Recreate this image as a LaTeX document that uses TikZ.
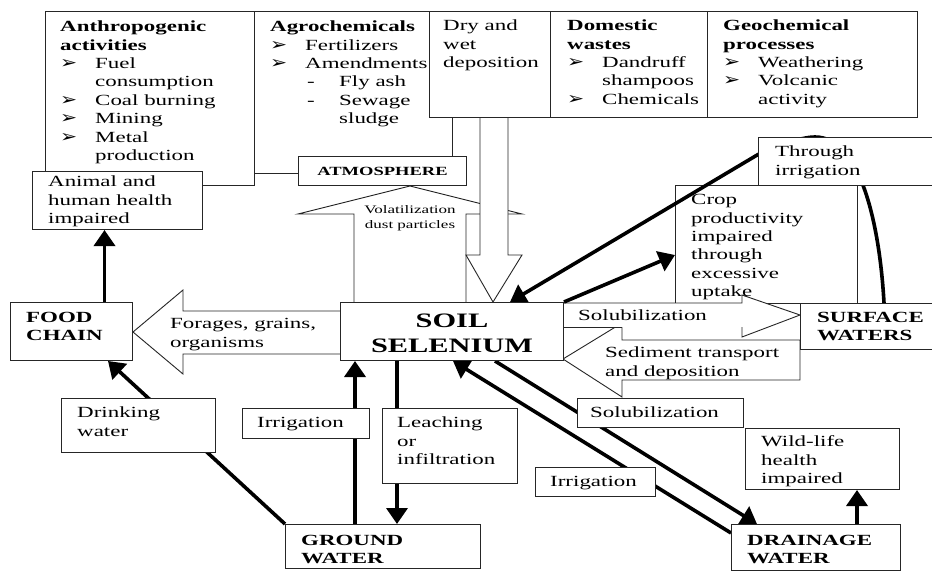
\documentclass[tikz,border=0pt]{standalone}
\usepackage{fontspec}
\setmainfont{Liberation Serif}[FakeStretch=1.48]
\newfontfamily\bulfont{DejaVu Sans}[FakeStretch=1.2]
\usetikzlibrary{arrows.meta}
\pgfdeclarelayer{back}
\pgfdeclarelayer{mid}
\pgfsetlayers{back,mid,main}
\newcommand\fsn{\fontsize{15.5}{18.4}\selectfont}
\newcommand\mybul{\makebox[35pt][l]{\hspace{0pt}{\bulfont\fontsize{17}{11}\selectfont ➢}}}
\newcommand\myind{\hspace*{35pt}}
\newcommand\mydash{\makebox[34pt][l]{\hspace{2pt}-}}
\begin{document}
\begin{tikzpicture}[x=1pt,y=-1pt,
  box/.style={draw=black!85, line width=1pt, fill=white, inner sep=0pt, anchor=north west},
  hollow/.style={draw=black!85, line width=0.9pt, fill=white, line join=miter},
  thinl/.style={draw=black!85, line width=0.9pt},
  conn/.style={line width=3.6pt, -{Triangle[width=21pt,length=16pt]}},
  lbl/.style={align=left, inner sep=0pt, anchor=north west, font=\fsn},
  blbl/.style={align=left, inner sep=0pt, anchor=north west, font=\fsn\bfseries},
]
\useasboundingbox (0,0) rectangle (932,573);
\begin{pgfonlayer}{back}
\fill[white] (0,0) rectangle (932,573);
\node[box, minimum width=209pt, minimum height=174pt] (anthro) at (45,11) {};
\node[box, minimum width=198pt, minimum height=162pt] (agro) at (254,11) {};
% volatilization (up)
\draw[hollow] (354,302) -- (354,214) -- (298,214) -- (410,186) -- (522,214) -- (466,214) -- (466,302);
% dry and wet deposition (down)
\draw[hollow] (480,117) -- (480,255) -- (466,255) -- (493,302) -- (522,255) -- (508,255) -- (508,117);
% forages (left)
\draw[hollow] (340,311) -- (183,311) -- (183,290) -- (133,332) -- (183,374) -- (183,354) -- (340,354);
\node[box, minimum width=182pt, minimum height=118pt] (crop) at (675,185) {};
% sediment transport (left)
\draw[hollow] (800,340) -- (622,340) -- (622,323) -- (563,359) -- (622,397) -- (622,380) -- (800,380) -- cycle;
% solubilization (right)
\fill[white] (563,303) -- (742,303) -- (742,295) -- (800,315) -- (742,337) -- (742,327) -- (563,327) -- cycle;
\draw[thinl] (563,303) -- (742,303) -- (742,295) -- (800,315) -- (742,337) -- (742,327);
\draw[thinl] (563,327) -- (622,327);
\end{pgfonlayer}

% boxes
\node[box, minimum width=121pt, minimum height=106pt] (dry) at (429,11) {};
\node[box, minimum width=157pt, minimum height=106pt] (dom) at (550,11) {};
\node[box, minimum width=210pt, minimum height=106pt] (geo) at (707,11) {};
\node[box, minimum width=168pt, minimum height=29pt] (atm) at (298,156) {};
\node[box, minimum width=170pt, minimum height=58pt] (animal) at (32,171) {};
\node[box, minimum width=122pt, minimum height=58pt] (food) at (10,302) {};
\node[box, minimum width=223pt, minimum height=58pt] (soil) at (340,302) {};
\node[box, minimum width=182pt, minimum height=48pt] (thru) at (758,137) {};
\node[box, minimum width=140pt, minimum height=46pt] (surf) at (800,303) {};
\node[box, minimum width=154pt, minimum height=54pt] (drink) at (61,398) {};
\node[box, minimum width=127pt, minimum height=30pt] (irrL) at (242,408) {};
\node[box, minimum width=135pt, minimum height=75pt] (leach) at (382,408) {};
\node[box, minimum width=195pt, minimum height=44pt] (gw) at (285,524) {};
\node[box, minimum width=166pt, minimum height=29pt] (solB) at (577,398) {};
\node[box, minimum width=120pt, minimum height=29pt] (irrR) at (535,467) {};
\node[box, minimum width=154pt, minimum height=61pt] (wild) at (745,428) {};
\node[box, minimum width=169pt, minimum height=46pt] (drain) at (731,524) {};

% texts
\node[lbl] (anthro-t) at (60,18.6) {\strut\textbf{Anthropogenic}\\ \textbf{activities}\\ \mybul Fuel\\ \myind consumption\\ \mybul Coal burning\\ \mybul Mining\\ \mybul Metal\\ \myind production};
\node[lbl] (agro-t) at (270,18.6) {\strut\textbf{Agrochemicals}\\ \mybul Fertilizers\\ \mybul Amendments\\ \myind\mydash Fly ash\\ \myind\mydash Sewage\\ \myind\hspace*{34pt}sludge};
\node[lbl] (dry-t) at (443,17.6) {\strut Dry and\\ wet\\ deposition};
\node[lbl] (dom-t) at (567,17.6) {\strut\textbf{Domestic}\\ \textbf{wastes}\\ \mybul Dandruff\\ \myind shampoos\\ \mybul Chemicals};
\node[lbl] (geo-t) at (723,17.6) {\strut\textbf{Geochemical}\\ \textbf{processes}\\ \mybul Weathering\\ \mybul Volcanic\\ \myind activity};
\node[font=\fontsize{12.5}{14}\selectfont\bfseries, inner sep=0pt] (atm-t) at (atm.center) {ATMOSPHERE};
\node[font=\fontsize{11.5}{14.5}\selectfont, align=center, inner sep=0pt] (vol-t) at (410,218) {Volatilization\\ dust particles};
\node[lbl] (animal-t) at (48,173.6) {\strut Animal and\\ human health\\ impaired};
\node[blbl] (food-t) at (26,309.4) {\strut FOOD\\ CHAIN};
\node[lbl] (forage-t) at (170,315.6) {\strut Forages, grains,\\ organisms};
\node[font=\fontsize{20.5}{25}\selectfont\bfseries, align=center, inner sep=0pt] (soil-t) at ([yshift=-1.5pt]soil.center) {SOIL\\ SELENIUM};
\node[lbl] (sol-t) at (578,307.6) {\strut Solubilization};
\node[lbl] (sed-t) at (605,344.6) {\strut Sediment transport\\ and deposition};
\node[lbl] (crop-t) at (691,191.6) {\strut Crop\\ productivity\\ impaired\\ through\\ excessive\\ uptake};
\node[lbl] (thru-t) at (775,143.6) {\strut Through\\ irrigation};
\node[blbl] (surf-t) at (817,309.4) {\strut SURFACE\\ WATERS};
\node[lbl] (drink-t) at (77,404.6) {\strut Drinking\\ water};
\node[lbl] (irrL-t) at (257,414.6) {\strut Irrigation};
\node[lbl] (leach-t) at (397,414.6) {\strut Leaching\\ or\\ infiltration};
\node[blbl] (gw-t) at (301,532.1) {\strut GROUND\\ WATER};
\node[lbl] (solB-t) at (590,404.6) {\strut Solubilization};
\node[lbl] (irrR-t) at (550,473.6) {\strut Irrigation};
\node[lbl] (wild-t) at (761,433.6) {\strut Wild-life\\ health\\ impaired};
\node[blbl] (drain-t) at (747,532.1) {\strut DRAINAGE\\ WATER};

% connectors
\begin{pgfonlayer}{mid}
\draw[conn] ([xshift=33pt]food.north) -- ([xshift=33pt]food.north |- animal.south);
\draw[conn] (gw.north west) -- ([xshift=-25pt]food.south east);
\draw[conn] ([xshift=70pt]gw.north west) -- ([xshift=15pt]soil.south west);
\draw[conn] ([xshift=57pt]soil.south west) -- ([xshift=112pt]gw.north west);
\draw[conn] ([xshift=155pt]soil.south west) -- ([xshift=26pt]drain.north west);
\draw[conn] ([yshift=-9pt]drain.north west) -- ([xshift=113pt]soil.south west);
\draw[conn] ([xshift=126pt]drain.north west) -- ([xshift=126pt]drain.north west |- wild.south);
\draw[conn] (soil.north east) -- ([yshift=-70pt]crop.north west);
\draw[conn] ([xshift=84pt]surf.north west) .. controls (880,230) and (862,137) .. ([xshift=57pt]thru.north west)
   .. controls (800,137) and (775,147) .. ([yshift=7pt]thru.west) -- ([xshift=170pt]soil.north west);
\end{pgfonlayer}
\end{tikzpicture}
\end{document}
